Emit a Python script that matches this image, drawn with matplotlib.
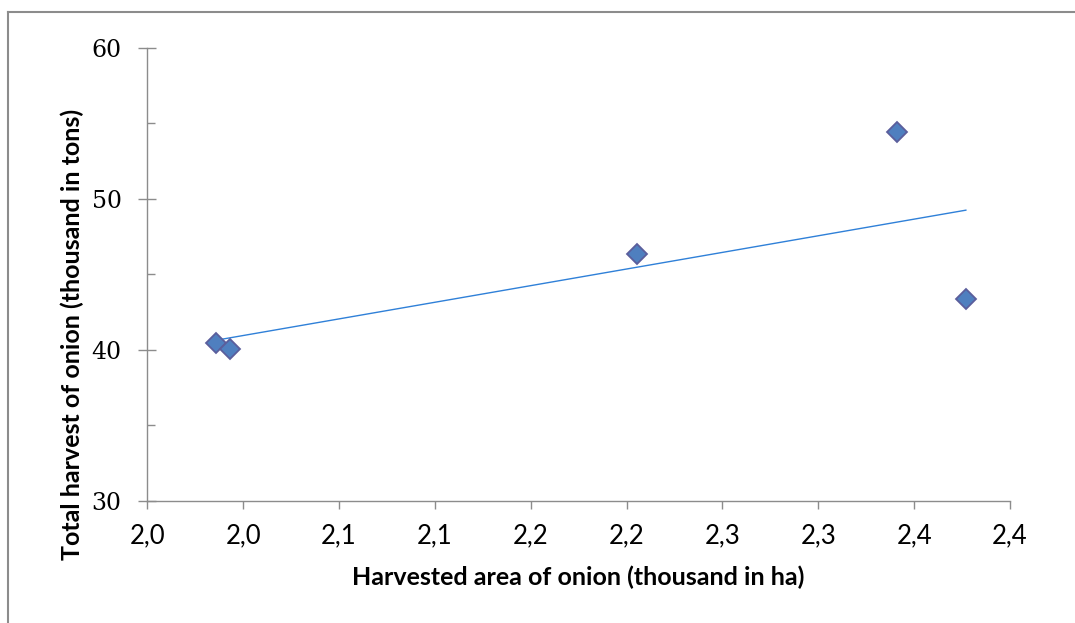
import numpy as np
import matplotlib
matplotlib.use("Agg")
import matplotlib.pyplot as plt
from matplotlib.ticker import FixedLocator, MultipleLocator

# harvested area (thousand ha) vs total harvest (thousand tons)
area = [1.986, 1.993, 2.2055, 2.341, 2.377]
harvest = [40.42, 40.05, 46.34, 54.40, 43.36]

x_ticks = [1.95, 2.00, 2.05, 2.10, 2.15, 2.20, 2.25, 2.30, 2.35, 2.40]
x_tick_labels = ["2,0", "2,0", "2,1", "2,1", "2,2", "2,2", "2,3", "2,3", "2,4", "2,4"]
y_ticks = [30, 40, 50, 60]

fig = plt.figure(figsize=(10.75, 6.23), dpi=100)
ax = fig.add_axes([0.1370, 0.1963, 0.9395 - 0.1370, 0.9234 - 0.1963])

# outer chart frame (top and left edge visible)
fig.add_artist(plt.Line2D([8 / 1075, 8 / 1075], [0, 1 - 12 / 623],
                          transform=fig.transFigure, color="#8c8c8c", lw=1.5))
fig.add_artist(plt.Line2D([8 / 1075, 1], [1 - 12 / 623, 1 - 12 / 623],
                          transform=fig.transFigure, color="#8c8c8c", lw=1.5))

# linear trend line
slope, intercept = np.polyfit(area, harvest, 1)
xs = np.array([min(area), max(area)])
ax.plot(xs, slope * xs + intercept, color="#2f80d8", lw=1.0, zorder=2)

ax.plot(area, harvest, linestyle="none", marker="D", markersize=10,
        markerfacecolor="#4f7fbf", markeredgecolor="#5b5e9c", markeredgewidth=1.3,
        zorder=3)

ax.set_xlim(1.95, 2.40)
ax.set_ylim(30, 60)

ax.xaxis.set_major_locator(FixedLocator(x_ticks))
ax.set_xticklabels(x_tick_labels, fontsize=18.5, family="Lato")
ax.set_yticks(y_ticks)
ax.set_yticklabels([str(v) for v in y_ticks], fontsize=17, family="DejaVu Serif")
ax.yaxis.set_minor_locator(MultipleLocator(5))

for side in ["top", "right"]:
    ax.spines[side].set_visible(False)
for side in ["left", "bottom"]:
    ax.spines[side].set_color("#8c8c8c")
    ax.spines[side].set_linewidth(1.0)

ax.tick_params(axis="x", which="major", direction="out", length=6, width=1,
               color="#8c8c8c", pad=10)
ax.tick_params(axis="y", which="major", direction="inout", length=13, width=1,
               color="#8c8c8c", pad=12)
ax.tick_params(axis="y", which="minor", direction="in", length=6, width=1,
               color="#8c8c8c")

ax.set_xlabel("Harvested area of onion (thousand in ha)", fontsize=18,
              fontweight="bold", family="Lato", labelpad=13)
ax.set_ylabel("Total harvest of onion (thousand in tons)", fontsize=18,
              fontweight="bold", family="Lato")
ax.yaxis.set_label_coords(-0.0734, 0.368)

fig.savefig("out.png", dpi=100, facecolor="white")
